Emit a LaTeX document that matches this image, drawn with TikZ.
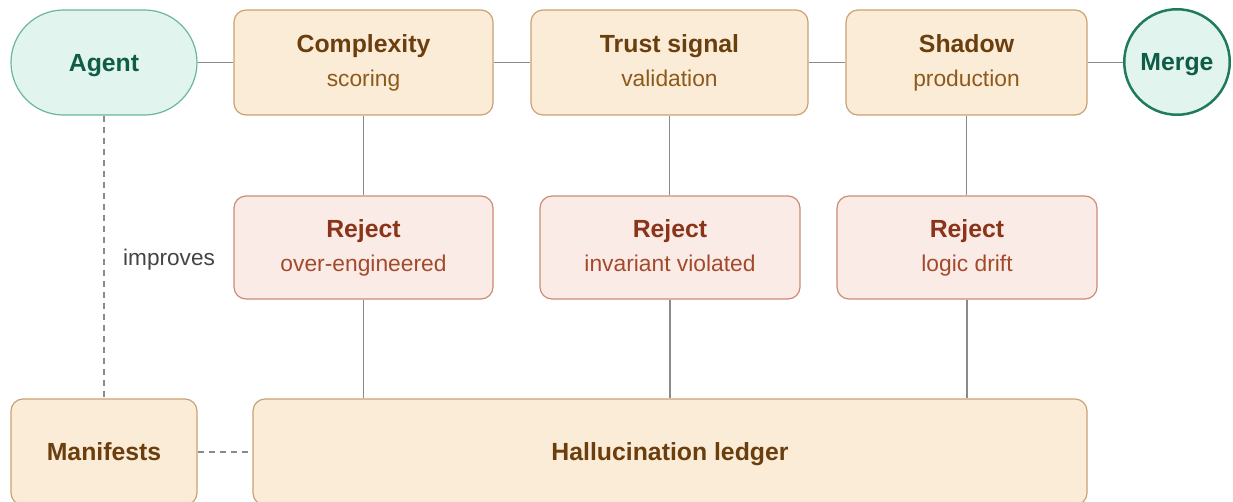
\documentclass[tikz,border=0pt]{standalone}
\usepackage{fontspec}
\setmainfont{Liberation Sans}
\usetikzlibrary{calc}

\definecolor{stagefill}{HTML}{FBECD8}
\definecolor{stageline}{HTML}{C9A273}
\definecolor{stagetitle}{HTML}{6B3E0E}
\definecolor{stagesub}{HTML}{8E5A1C}
\definecolor{rejfill}{HTML}{FBEBE6}
\definecolor{rejline}{HTML}{CC8B76}
\definecolor{rejtitle}{HTML}{8A3519}
\definecolor{rejsub}{HTML}{A34A2B}
\definecolor{endfill}{HTML}{E2F4EE}
\definecolor{endline}{HTML}{6DB5A0}
\definecolor{endstrong}{HTML}{1F7A5F}
\definecolor{endtext}{HTML}{0F5C47}
\definecolor{wire}{HTML}{8A8A8A}
\definecolor{note}{HTML}{444444}

\tikzset{
  % single-line labels are centred on their capital height
  base/.style={inner sep=0pt, font=\fontsize{24.8}{30}\selectfont\bfseries,
    text height=17.6pt, text depth=0pt},
  stagebox/.style={base, rectangle, rounded corners=12pt, draw=stageline, line width=1.2pt,
    fill=stagefill, text=stagetitle, minimum height=105pt},
  rejbox/.style={base, rectangle, rounded corners=12pt, draw=rejline, line width=1.2pt,
    fill=rejfill, text=rejtitle, minimum height=103pt},
  pill/.style={base, rectangle, rounded corners=52.5pt, draw=endline, line width=1.2pt,
    fill=endfill, text=endtext, minimum height=105pt},
  endcircle/.style={base, circle, draw=endstrong, line width=2.5pt,
    fill=endfill, text=endtext, minimum size=105.5pt},
  % two-line labels: title above, detail below the box centre
  title/.style={inner sep=0pt, anchor=base, font=\fontsize{24.8}{30}\selectfont\bfseries, yshift=10.2pt},
  detail/.style={inner sep=0pt, anchor=base, font=\fontsize{22.8}{28}\selectfont, yshift=-23.5pt},
  conn/.style={draw=wire, line width=1.7pt},
  dashconn/.style={draw=wire, line width=1.6pt, dash pattern=on 6pt off 5pt},
}

\begin{document}
\begin{tikzpicture}[x=1pt, y=-1pt]
  \clip (0,0) rectangle (1233,501);
  \fill[white] (0,0) rectangle (1233,501);

  % connectors first, so the boxes sit on top of them
  \path (104,62.5) coordinate (agentc) (363.5,62.5) coordinate (cxc)
        (669.5,62.5) coordinate (trustc) (966.5,62.5) coordinate (shadowc);

  % pipeline stages
  \node[pill, minimum width=186pt] (agent) at (agentc) {Agent};
  \node[stagebox, minimum width=259pt] (cx) at (cxc) {};
  \node[title, text=stagetitle] (cx-t) at (cx.center) {Complexity};
  \node[detail, text=stagesub] (cx-d) at (cx.center) {scoring};
  \node[stagebox, minimum width=277pt] (trust) at (trustc) {};
  \node[title, text=stagetitle] (trust-t) at (trust.center) {Trust signal};
  \node[detail, text=stagesub] (trust-d) at (trust.center) {validation};
  \node[stagebox, minimum width=241pt] (shadow) at (shadowc) {};
  \node[title, text=stagetitle] (shadow-t) at (shadow.center) {Shadow};
  \node[detail, text=stagesub] (shadow-d) at (shadow.center) {production};
  \node[endcircle] (merge) at (1177,62) {Merge};

  % rejection outcomes
  \node[rejbox, minimum width=259pt] (r1) at (363.5,247.5) {};
  \node[title, text=rejtitle] (r1-t) at (r1.center) {Reject};
  \node[detail, text=rejsub] (r1-d) at (r1.center) {over-engineered};
  \node[rejbox, minimum width=260pt] (r2) at (670,247.5) {};
  \node[title, text=rejtitle] (r2-t) at (r2.center) {Reject};
  \node[detail, text=rejsub] (r2-d) at (r2.center) {invariant violated};
  \node[rejbox, minimum width=260pt] (r3) at (967,247.5) {};
  \node[title, text=rejtitle] (r3-t) at (r3.center) {Reject};
  \node[detail, text=rejsub] (r3-d) at (r3.center) {logic drift};

  % bottom row
  \node[stagebox, minimum width=186pt, minimum height=106pt] (manifests) at (104,452) {Manifests};
  \node[stagebox, minimum width=834pt, minimum height=106pt] (ledger) at (670,452) {Hallucination ledger};

  % main flow
  \draw[conn] (agent) -- (cx);
  \draw[conn] (cx) -- (trust);
  \draw[conn] (trust) -- (shadow);
  \draw[conn] (shadow.east) -- (shadow.east -| merge.west);

  % stage to rejection
  \draw[conn] (cx.south) -- (cx.south |- r1.north);
  \draw[conn] (trust.south) -- (trust.south |- r2.north);
  \draw[conn] (shadow.south) -- (shadow.south |- r3.north);

  % rejection to ledger
  \draw[conn] (r1.south) -- (r1.south |- ledger.north);
  \draw[conn] (r2.south) -- (r2.south |- ledger.north);
  \draw[conn] (r3.south) -- (r3.south |- ledger.north);

  % feedback
  \draw[dashconn] (agent.south) -- (manifests.north);
  \node[anchor=base west, inner sep=0pt, font=\fontsize{22.6}{27}\selectfont, text=note]
    (imp) at ($(agent.south)!0.5!(manifests.north) + (19,8.5)$) {improves};
  \draw[dashconn] (manifests) -- (ledger);
\end{tikzpicture}
\end{document}
